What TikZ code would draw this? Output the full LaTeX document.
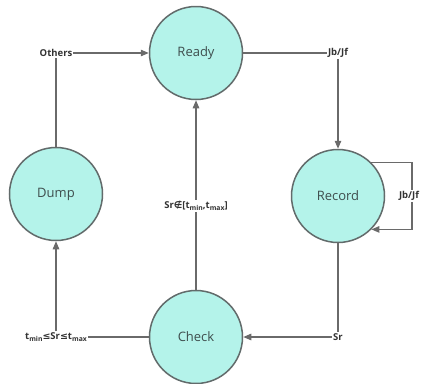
\documentclass[tikz,border=0pt]{standalone}
\usepackage{fontspec}
\setmainfont{Open Sans}
\newfontfamily\symfont{DejaVu Sans}
\usetikzlibrary{arrows.meta}
\definecolor{statefill}{HTML}{B4F3EA}
\definecolor{rimgrey}{HTML}{626B6B}
\definecolor{wiregrey}{HTML}{6A6A6A}
\definecolor{statetext}{HTML}{3E4D4D}
\definecolor{labgrey}{HTML}{333333}
\newcommand{\lowsub}[1]{\raisebox{-0.35ex}{\fontsize{6.8}{7}\selectfont #1}}
\tikzset{
  state/.style={circle, draw=rimgrey, line width=1.5pt, fill=statefill,
    minimum size=93pt, inner sep=0pt, text=statetext,
    font=\fontsize{13}{15}\selectfont},
  lab/.style={fill=white, inner sep=1pt, text=labgrey,
    font=\bfseries\fontsize{9.5}{11}\selectfont},
  wire/.style={draw=wiregrey, line width=1.2pt},
  flow/.style={wire, -{Triangle[length=8pt,width=6.5pt]}}
}
\begin{document}
\begin{tikzpicture}[x=1pt, y=-1pt]
  \useasboundingbox (0,0) rectangle (427,383);
  % states
  \node[state] (ready)  at (196,53)  {Ready};
  \node[state] (record) at (338,196) {Record};
  \node[state] (dump)   at (56,194)  {Dump};
  \node[state] (check)  at (196,337) {Check};
  % transition labels
  \node[lab] (others) at (56,53)  {Others};
  \node[lab] (jbtop)  at (338,53) {Jb/Jf};
  \node[lab] (sr)     at (338,337) {Sr};
  \node[lab] (inrange) at (56,337)
    {t\lowsub{min}{\symfont\bfseries ≤}Sr{\symfont\bfseries ≤}t\lowsub{max}};
  \coordinate (loopcorner) at (412,196);
  % transitions
  \draw[wire] (dump.north) -- (others.south -| dump.north);
  \draw[flow] (others.east |- ready.west) -- (ready.west);
  \draw[wire] (ready.east) -- (jbtop.west |- ready.east);
  \draw[flow] (jbtop.south -| record.north) -- (record.north);
  \draw[flow] (record.45) -| (loopcorner) |- (record.-45);
  \draw[wire] (record.south) -- (sr.north -| record.south);
  \draw[flow] (sr.west |- check.east) -- (check.east);
  \draw[flow] (check.north) -- (ready.south);
  \draw[wire] (check.west) -- (inrange.east |- check.west);
  \draw[flow] (inrange.north -| dump.south) -- (dump.south);
  % labels sitting on lines
  \node[lab] (jbloop) at (409,196) {Jb/Jf};
  \node[lab] (outrange) at (196,206)
    {Sr{\symfont\bfseries ∉}[t\lowsub{min},t\lowsub{max}]};
\end{tikzpicture}
\end{document}
